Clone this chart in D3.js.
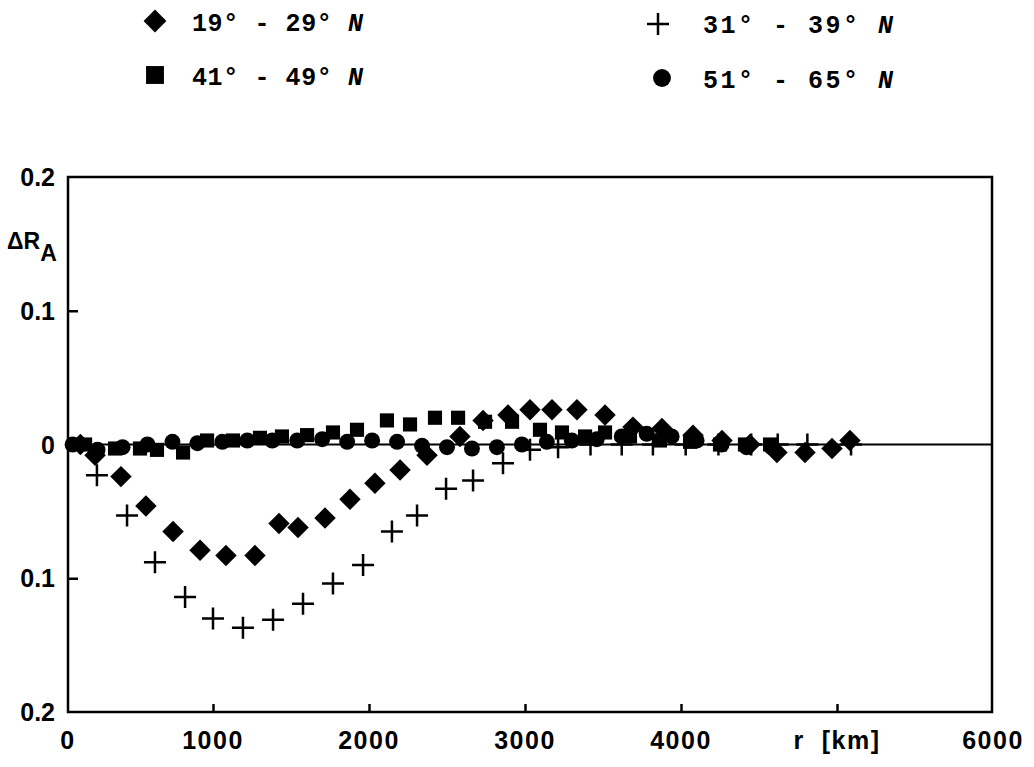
<!DOCTYPE html>
<html>
<head>
<meta charset="utf-8">
<script src="https://cdn.jsdelivr.net/npm/d3@7"></script>
<style>
  html, body { margin: 0; padding: 0; background: #fff; }
  svg { display: block; }
</style>
</head>
<body>
<svg id="chart" width="1034" height="767"></svg>
<script>
// DATA (r in km, delta R_A)
const diamondR = [150, 244, 410, 570, 744, 917, 1083, 1269, 1423, 1545, 1718, 1878, 2038, 2199, 2372, 2583, 2731, 2891, 3032, 3173, 3333, 3513, 3692, 3878, 4077, 4263, 4442, 4615, 4795, 4968, 5083];
const diamondV = [0, -0.008, -0.024, -0.046, -0.065, -0.079, -0.083, -0.083, -0.059, -0.062, -0.055, -0.041, -0.029, -0.019, -0.008, 0.006, 0.018, 0.022, 0.026, 0.026, 0.026, 0.022, 0.013, 0.012, 0.007, 0.003, 0, -0.006, -0.006, -0.003, 0.003];

const crossR = [256, 449, 628, 821, 1000, 1192, 1385, 1577, 1769, 1962, 2147, 2308, 2494, 2667, 2859, 3032, 3212, 3420, 3620, 3820, 4030, 4240, 4450, 4620, 4810, 5090];
const crossV = [-0.023, -0.053, -0.088, -0.114, -0.130, -0.137, -0.131, -0.119, -0.104, -0.090, -0.065, -0.053, -0.033, -0.027, -0.014, -0.004, -0.002, 0, 0, 0, 0, 0, 0, 0, 0, 0];

const squareR = [180, 372, 532, 641, 808, 962, 1128, 1301, 1442, 1603, 1769, 1923, 2115, 2263, 2423, 2571, 2744, 2917, 3096, 3237, 3385, 3513, 3673, 3865, 4058, 4250, 4410, 4571];
const squareV = [0, -0.003, -0.003, -0.004, -0.006, 0.003, 0.003, 0.005, 0.006, 0.007, 0.009, 0.011, 0.018, 0.015, 0.020, 0.020, 0.017, 0.017, 0.011, 0.009, 0.006, 0.009, 0.006, 0.003, 0.002, 0, 0, 0];

const circleR = [100, 260, 420, 580, 740, 900, 1060, 1220, 1380, 1540, 1700, 1860, 2020, 2180, 2340, 2500, 2660, 2820, 2980, 3140, 3300, 3460, 3620, 3780, 3940, 4100, 4260, 4420, 4580];
const circleV = [0, -0.004, -0.002, 0, 0.002, 0.001, 0.002, 0.003, 0.003, 0.003, 0.004, 0.002, 0.003, 0.002, -0.001, -0.002, -0.003, -0.002, 0, 0.002, 0.003, 0.004, 0.006, 0.008, 0.006, 0.003, 0, -0.002, -0.002];

const yTicks = [0.2, 0.1, 0, -0.1, -0.2];
const xTicks = [1000, 2000, 3000, 4000, 5000];
const xTickLabels = [["0", 0], ["1000", 1000], ["2000", 2000], ["3000", 3000], ["4000", 4000], ["r  [km]", 5000], ["6000", 6000]];
const legendLabels = ["19° - 29° ", "31° - 39° ", "41° - 49° ", "51° - 65° "];

// CANVAS SETUP
const svg = d3.select("#chart");
const box = { left: 68, right: 992, top: 177, bottom: 712 };

const x = d3.scaleLinear().domain([0, 6000]).range([57, 993]);
const y = d3.scaleLinear().domain([-0.2, 0.2]).range([712, 177]);

const zip = (rs, vs) => rs.map((r, i) => ({ r: r, v: vs[i] }));

// frame
svg.append("rect")
  .attr("x", box.left).attr("y", box.top)
  .attr("width", box.right - box.left).attr("height", box.bottom - box.top)
  .attr("fill", "none").attr("stroke", "#000").attr("stroke-width", 2.5);

// zero line
svg.append("line")
  .attr("x1", box.left).attr("x2", box.right)
  .attr("y1", y(0)).attr("y2", y(0))
  .attr("stroke", "#000").attr("stroke-width", 2);

// x ticks (inward)
svg.append("g")
  .attr("transform", `translate(0,${box.bottom})`)
  .call(d3.axisBottom(x).tickValues(xTicks).tickSize(-8).tickFormat(""))
  .call((g) => g.select(".domain").remove())
  .call((g) => g.selectAll("line").attr("stroke-width", 2.5));

// y ticks (inward)
svg.append("g")
  .attr("transform", `translate(${box.left},0)`)
  .call(d3.axisLeft(y).tickValues([0.1, -0.1]).tickSize(-10).tickFormat(""))
  .call((g) => g.select(".domain").remove())
  .call((g) => g.selectAll("line").attr("stroke-width", 2.5));

const labelFont = "'Liberation Sans', Arial, sans-serif";

svg.append("g")
  .selectAll("text")
  .data(yTicks)
  .join("text")
  .attr("x", 55)
  .attr("y", (d) => y(d) + 9)
  .attr("text-anchor", "end")
  .attr("font-family", labelFont)
  .attr("font-weight", "bold")
  .attr("font-size", 25)
  .text((d) => (d === 0 ? "0" : d3.format(".1f")(Math.abs(d))));

svg.append("g")
  .selectAll("text")
  .data(xTickLabels)
  .join("text")
  .attr("x", (d) => (d[1] === 0 ? box.left : x(d[1])))
  .attr("y", 749)
  .attr("text-anchor", "middle")
  .attr("font-family", labelFont)
  .attr("font-weight", "bold")
  .attr("font-size", 25)
  .attr("letter-spacing", 1.5)
  .attr("xml:space", "preserve")
  .style("white-space", "pre")
  .text((d) => d[0]);

// axis title
const yt = svg.append("text")
  .attr("x", 7).attr("y", 249)
  .attr("font-family", labelFont)
  .attr("font-weight", "bold")
  .attr("font-size", 23);
yt.append("tspan").text("\u0394R");
yt.append("tspan").attr("dy", 12).text("A");

// MARKS
const g = svg.append("g");

g.selectAll("path.sq")
  .data(zip(squareR, squareV))
  .join("path")
  .attr("class", "sq")
  .attr("d", d3.symbol(d3.symbolSquare, 200))
  .attr("transform", (d) => `translate(${x(d.r)},${y(d.v)})`)
  .attr("fill", "#000");

g.selectAll("path.ci")
  .data(zip(circleR, circleV))
  .join("path")
  .attr("class", "ci")
  .attr("d", d3.symbol(d3.symbolCircle, 200))
  .attr("transform", (d) => `translate(${x(d.r)},${y(d.v)})`)
  .attr("fill", "#000");

g.selectAll("path.di")
  .data(zip(diamondR, diamondV))
  .join("path")
  .attr("class", "di")
  .attr("d", d3.symbol(d3.symbolSquare, 230))
  .attr("transform", (d) => `translate(${x(d.r)},${y(d.v)}) rotate(45)`)
  .attr("fill", "#000");

const plus = (s) => `M${-s},0H${s}M0,${-s}V${s}`;
g.selectAll("path.cr")
  .data(zip(crossR, crossV))
  .join("path")
  .attr("class", "cr")
  .attr("d", plus(11))
  .attr("transform", (d) => `translate(${x(d.r)},${y(d.v)})`)
  .attr("fill", "none")
  .attr("stroke", "#000")
  .attr("stroke-width", 2.5);

// LEGEND
const legend = [
  { label: legendLabels[0], kind: "di", sx: 155, sy: 21, tx: 192, ty: 31, ls: 0.6 },
  { label: legendLabels[1], kind: "cr", sx: 658, sy: 24, tx: 703, ty: 33, ls: 2.5 },
  { label: legendLabels[2], kind: "sq", sx: 155, sy: 75, tx: 192, ty: 85, ls: 0.6 },
  { label: legendLabels[3], kind: "ci", sx: 662, sy: 78, tx: 703, ty: 88, ls: 2.5 },
];

const lg = svg.append("g");
legend.forEach((d) => {
  let p = lg.append("path").attr("transform", `translate(${d.sx},${d.sy})`).attr("fill", "#000");
  if (d.kind === "di") p.attr("d", d3.symbol(d3.symbolSquare, 260)).attr("transform", `translate(${d.sx},${d.sy}) rotate(45)`);
  if (d.kind === "sq") p.attr("d", d3.symbol(d3.symbolSquare, 320));
  if (d.kind === "ci") p.attr("d", d3.symbol(d3.symbolCircle, 250));
  if (d.kind === "cr") p.attr("d", plus(11)).attr("fill", "none").attr("stroke", "#000").attr("stroke-width", 2.5);

  const t = lg.append("text")
    .attr("x", d.tx).attr("y", d.ty)
    .attr("font-family", "'Liberation Mono', 'Courier New', monospace")
    .attr("font-weight", "bold")
    .attr("font-size", 25)
    .attr("letter-spacing", d.ls)
    .attr("xml:space", "preserve")
    .style("white-space", "pre");
  t.append("tspan").text(d.label);
  t.append("tspan").attr("font-style", "italic").text("N");
});
</script>
</body>
</html>
